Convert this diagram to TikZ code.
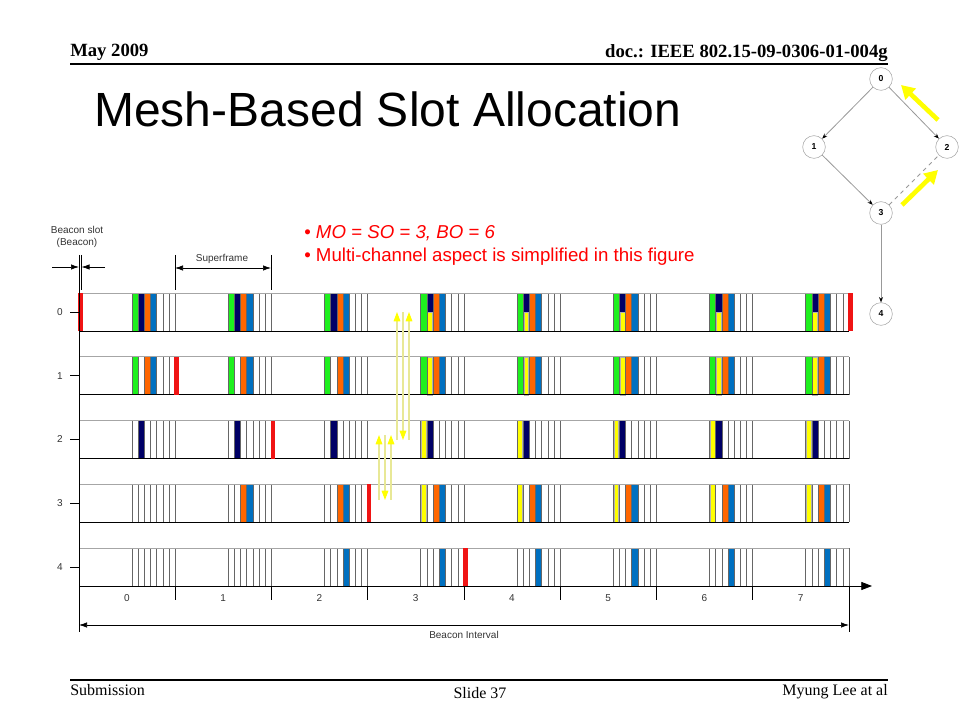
\documentclass[tikz,border=0pt]{standalone}
\usepackage{fontspec}
\setmainfont{Liberation Serif}
\setsansfont{Liberation Sans}
\usepackage{tikz}
\usetikzlibrary{arrows.meta}

\definecolor{slotgreen}{RGB}{30,240,30}
\definecolor{slotnavy}{RGB}{0,0,102}
\definecolor{slotorange}{RGB}{255,102,0}
\definecolor{slotblue}{RGB}{0,112,192}
\definecolor{slotyellow}{RGB}{255,255,0}
\definecolor{beaconred}{RGB}{240,20,20}
\definecolor{paleyellow}{RGB}{232,232,150}

% one slot of row #1, superframe #2, slot #3
\newcommand{\slotcell}[4]{%
  \pgfmathsetmacro{\cx}{132+96.25*#2+6.18*#3}%
  \pgfmathsetmacro{\cy}{293+63.75*#1}%
  \fill[#4] (\cx,\cy) rectangle ++(6.18,38);}
\newcommand{\ycell}[4]{%
  \pgfmathsetmacro{\cx}{132+96.25*#2+6.18*#3}%
  \pgfmathsetmacro{\cy}{293+63.75*#1}%
  \filldraw[fill=slotyellow,draw=gray!60,line width=0.3pt] (\cx+0.6,\cy+#4) rectangle (\cx+5.4,\cy+38);}

\begin{document}
\begin{tikzpicture}[x=0.75pt,y=-0.75pt,
  slotline/.style={draw=black!60,line width=0.5pt},
  lbl/.style={font=\sffamily\fontsize{7.5}{9}\selectfont,text=black!80,inner sep=1pt},
  txt/.style={inner sep=0pt},
  dim/.style={line width=0.5pt,{Latex[length=6pt,width=4pt]}-{Latex[length=6pt,width=4pt]}},
  yarrow/.style={draw=paleyellow,line width=0.8pt,-{Triangle[length=7pt,width=5pt,color=slotyellow]}},
  gnode/.style={circle,draw=gray!70,minimum size=17pt,inner sep=0pt,fill=white,
    font=\sffamily\bfseries\fontsize{6.5}{7}\selectfont},
  gedge/.style={draw=gray!80,line width=0.6pt,-{Stealth[length=4pt,width=3pt,black]}},
  bigyellow/.style={draw=slotyellow,line width=3.5pt,-{Triangle[length=10pt,width=11pt]}}]

  \useasboundingbox (0,0) rectangle (960,720);

  % header and footer
  \node[txt,anchor=base west,font=\bfseries\fontsize{14}{16}\selectfont] (hdate) at (70,57) {May 2009};
  \node[txt,anchor=base east,font=\bfseries\fontsize{14}{16}\selectfont] (hdoc) at (888,58) {doc.: IEEE 802.15-09-0306-01-004g};
  \draw[line width=0.8pt] (70,64) -- (888,64);
  \draw[line width=0.8pt] (70,680) -- (888,680);
  \node[txt,anchor=base west,font=\fontsize{12}{14}\selectfont] (fsub) at (70,695) {Submission};
  \node[txt,anchor=base,font=\fontsize{12}{14}\selectfont] (fslide) at (480,698) {Slide 37};
  \node[txt,anchor=base east,font=\fontsize{12}{14}\selectfont] (fauth) at (888,695) {Myung Lee at al};

  \node[txt,anchor=base west,font=\sffamily\fontsize{36}{40}\selectfont] (title) at (94,127) {Mesh-Based Slot Allocation};

  \node[txt,anchor=base west,text=red,font=\sffamily\fontsize{14}{16}\selectfont] (note1) at (304,239) {\textbullet\ \textit{MO = SO = 3, BO = 6}};
  \node[txt,anchor=base west,text=red,font=\sffamily\fontsize{14}{16}\selectfont] (note2) at (304,262) {\textbullet\ Multi-channel aspect is simplified in this figure};

  % slot colours
  \foreach \k in {0,...,7} {
    \slotcell{0}{\k}{0}{slotgreen}
    \slotcell{0}{\k}{1}{slotnavy}
    \slotcell{0}{\k}{2}{slotorange}
    \slotcell{0}{\k}{3}{slotblue}
    \slotcell{1}{\k}{0}{slotgreen}
    \slotcell{1}{\k}{2}{slotorange}
    \slotcell{1}{\k}{3}{slotblue}
    \slotcell{2}{\k}{1}{slotnavy}
  }
  \foreach \k in {1,...,7} {
    \slotcell{3}{\k}{2}{slotorange}
    \slotcell{3}{\k}{3}{slotblue}
  }
  \foreach \k in {2,...,7}
    \slotcell{4}{\k}{3}{slotblue};
  \foreach \k in {3,...,7} {
    \ycell{0}{\k}{1}{19}
    \ycell{1}{\k}{1}{0}
    \ycell{2}{\k}{0}{0}
    \ycell{3}{\k}{0}{0}
  }

  % slot boundaries and rows
  \foreach \r in {0,...,4}
    \foreach \k in {0,...,7}
      \foreach \j in {0,...,7}
        \draw[slotline] ({132+96.25*\k+6.18*\j},{293+63.75*\r}) -- ++(0,38);
  \foreach \r in {0,...,4} {
    \draw[gray!70,line width=0.6pt] (79,{293+63.75*\r}) -- (849,{293+63.75*\r});
    \draw[line width=0.6pt] (79,{331+63.75*\r}) -- (849,{331+63.75*\r});
    \fill[beaconred] ({78+96.25*\r},{293+63.75*\r}) rectangle ++(4.5,38);
    \node[lbl] (row\r) at (60,{312+63.75*\r}) {\r};
    \draw[line width=0.5pt] (70,{312+63.75*\r}) -- (79,{312+63.75*\r});
  }
  \fill[beaconred] (848,293) rectangle ++(4.5,38);

  % axes
  \draw[line width=0.6pt] (79,255) -- (79,632);
  \draw[line width=0.6pt,-{Triangle[length=8pt,width=6pt]}] (79,586) -- (872,586);
  \foreach \k in {1,...,7}
    \draw[line width=0.5pt] ({79+96.25*\k},586) -- ++(0,14);
  \draw[line width=0.5pt] (849,586) -- (849,632);
  \foreach \k in {0,...,7}
    \node[lbl] (sf\k) at ({127+96.25*\k},598) {\k};
  \coordinate (bil) at (79,625);
  \coordinate (bir) at (849,625);
  \draw[dim] (bil) -- (bir);
  \node[lbl] (bint) at (464,635) {Beacon Interval};

  % superframe and beacon slot marks
  \draw[line width=0.5pt] (175,255) -- (175,290) (271,255) -- (271,290);
  \coordinate (sfl) at (175,268);
  \coordinate (sfr) at (271,268);
  \draw[dim] (sfl) -- (sfr);
  \node[lbl] (sflab) at (222,259) {Superframe};
  \draw[line width=0.5pt] (81.5,255) -- (81.5,290);
  \coordinate (bsa) at (52,267);
  \coordinate (bsb) at (79,267);
  \coordinate (bsc) at (105,267);
  \coordinate (bsd) at (81.5,267);
  \draw[line width=0.5pt,-{Latex[length=6pt,width=4pt]}] (bsa) -- (bsb);
  \draw[line width=0.5pt,-{Latex[length=6pt,width=4pt]}] (bsc) -- (bsd);
  \node[lbl,align=center] (bslot) at (77,237) {Beacon slot\\(Beacon)};

  % relayed traffic
  \foreach \x/\a/\b in {397/440/312, 403/312/440, 409/440/312,
                        379/500/435, 385/435/500, 391/500/435}
    \draw[yarrow] (\x,\a) -- (\x,\b);

  % mesh
  \node[gnode] (n0) at (881,79) {0};
  \node[gnode] (n1) at (814,147) {1};
  \node[gnode] (n2) at (947,147) {2};
  \node[gnode] (n3) at (881,213) {3};
  \node[gnode] (n4) at (881,314) {4};
  \draw[gedge] (n0) -- (n1);
  \draw[gedge] (n0) -- (n2);
  \draw[gedge] (n1) -- (n3);
  \draw[gedge] (n3) -- (n4);
  \draw[gray!80,line width=0.6pt,dashed] (n3) -- (n2);
  \coordinate (ya1) at (938,120);
  \coordinate (ya2) at (901,85);
  \coordinate (yb1) at (902,205);
  \coordinate (yb2) at (938,170);
  \draw[bigyellow] (ya1) -- (ya2);
  \draw[bigyellow] (yb1) -- (yb2);
\end{tikzpicture}
\end{document}
